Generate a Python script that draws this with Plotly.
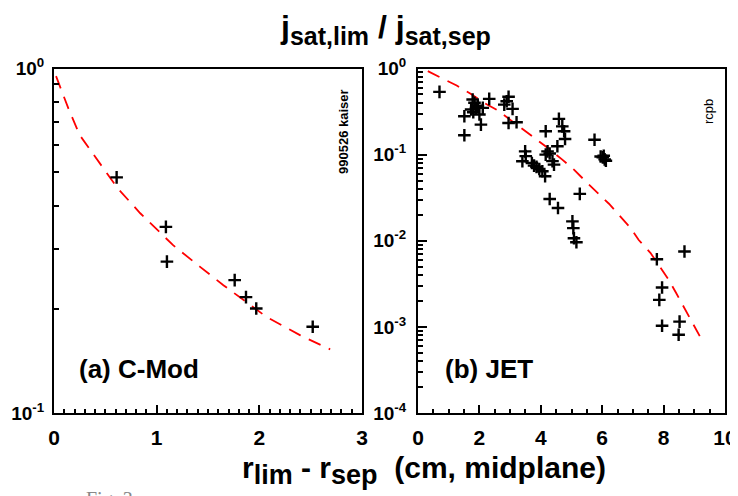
import plotly.graph_objects as go

# ---------------- data ----------------
cmod_x = [0.61, 1.09, 1.10, 1.76, 1.87, 1.97, 2.52]
cmod_y = [0.483, 0.347, 0.275, 0.243, 0.217, 0.201, 0.178]

cmod_fit_x = [0.02, 0.14, 0.25, 0.45, 0.62, 0.84, 1.16, 1.42, 1.65, 2.07, 2.40, 2.69]
cmod_fit_y = [0.95, 0.766, 0.641, 0.530, 0.449, 0.380, 0.307, 0.266, 0.235, 0.190, 0.168, 0.153]

jet_x = [0.70, 1.51, 1.51, 1.73, 1.78, 1.84, 1.89, 2.00, 2.05, 2.11, 1.95, 1.80,
         2.32, 2.81, 2.89, 2.95, 3.08, 2.95, 3.21,
         3.49, 3.51, 3.40, 3.71, 3.78, 3.86, 3.95, 4.05, 4.14,
         4.16, 4.16, 4.22, 4.29, 4.38, 4.43, 4.54, 4.59, 4.70, 4.76, 4.79,
         4.29, 4.56, 5.27, 5.03, 5.06, 5.08, 5.16,
         5.75, 5.95, 6.02, 6.08, 6.12, 6.05,
         7.78, 8.68, 7.95, 7.86, 7.95, 8.52, 8.49]
jet_y = [0.535, 0.168, 0.279, 0.334, 0.436, 0.40, 0.349, 0.292, 0.223, 0.349, 0.37, 0.31,
         0.444, 0.381, 0.417, 0.469, 0.340, 0.233, 0.238,
         0.109, 0.096, 0.0836, 0.080, 0.0745, 0.072, 0.068, 0.064, 0.056,
         0.187, 0.100, 0.109, 0.103, 0.084, 0.0765, 0.125, 0.26, 0.213, 0.187, 0.152,
         0.0305, 0.024, 0.035, 0.0168, 0.014, 0.0107, 0.0096,
         0.149, 0.095, 0.093, 0.088, 0.085, 0.097,
         0.0061, 0.0075, 0.00286, 0.00206, 0.00103, 0.00115, 0.00081]

jet_fit_x = [0.32, 1.26, 1.70, 2.16, 2.59, 3.06, 3.46, 3.89, 4.22, 4.70, 5.08, 5.46,
             5.84, 6.22, 6.54, 6.92, 7.19, 7.57, 7.84, 8.16, 8.40, 8.68, 8.92, 9.24]
jet_fit_y = [0.931, 0.634, 0.512, 0.398, 0.327, 0.244, 0.195, 0.149, 0.120, 0.0875, 0.067, 0.049,
             0.0363, 0.0269, 0.020, 0.0141, 0.0102, 0.00724, 0.00525, 0.00355, 0.00251, 0.00166,
             0.00117, 0.00071]

cmod_xticks = [0, 1, 2, 3]
jet_xticks = [0, 2, 4, 6, 8, 10]
cmod_yticks = [0.1, 1]
cmod_ytext = ["10<sup>-1</sup>", "10<sup>0</sup>"]
jet_yticks = [1e-4, 1e-3, 1e-2, 1e-1, 1]
jet_ytext = ["10<sup>-4</sup>", "10<sup>-3</sup>", "10<sup>-2</sup>", "10<sup>-1</sup>", "10<sup>0</sup>"]

# ---------------- figure ----------------
# the page body has an 8px margin, so the figure is offset by 8px in the window
OFF = 8
W, H = 738 - OFF, 496 - OFF
FONT = "Liberation Sans, Arial, Helvetica, sans-serif"

def px(x):
    return (x - OFF) / W

def py(y):
    return 1 - (y - OFF) / H

dom_a = [px(54), px(362)]
dom_b = [px(418), px(725)]
dom_y = [py(413), py(68.5)]

fig = go.Figure()

marker = dict(symbol="cross-thin", size=9, line=dict(color="black", width=2.4), color="black")
dash_line = dict(color="#ff0000", width=1.8, dash="13px,9px")

fig.add_trace(go.Scatter(x=cmod_fit_x, y=cmod_fit_y, mode="lines", line=dash_line,
                         xaxis="x", yaxis="y", showlegend=False, hoverinfo="skip"))
fig.add_trace(go.Scatter(x=cmod_x, y=cmod_y, mode="markers", marker=marker,
                         xaxis="x", yaxis="y", showlegend=False))
fig.add_trace(go.Scatter(x=jet_fit_x, y=jet_fit_y, mode="lines", line=dash_line,
                         xaxis="x2", yaxis="y2", showlegend=False, hoverinfo="skip"))
fig.add_trace(go.Scatter(x=jet_x, y=jet_y, mode="markers", marker=marker,
                         xaxis="x2", yaxis="y2", showlegend=False))

xtickfont = dict(family=FONT, size=21, color="black", weight="bold")
ytickfont = dict(family=FONT, size=19, color="black", weight="bold")

def minor_log(decades):
    vals = []
    for d in decades:
        for m in range(2, 10):
            vals.append(m * 10 ** d)
    return vals

common = dict(showline=True, linewidth=2, linecolor="black", ticks="inside",
              tickwidth=2, tickcolor="black", showgrid=False, zeroline=False,
              automargin=False, ticklabeloverflow="allow")

xa = dict(common, domain=dom_a, range=[0, 3], tickmode="array", tickvals=cmod_xticks,
          ticklen=8, tickfont=xtickfont,
          minor=dict(ticks="inside", dtick=0.1, tick0=0, ticklen=4,
                     tickwidth=1.5, tickcolor="black", showgrid=False),
          ticklabelstandoff=5)
xb = dict(common, domain=dom_b, range=[0, 10], tickmode="array", tickvals=jet_xticks,
          ticklen=8, tickfont=xtickfont,
          minor=dict(ticks="inside", dtick=0.5, tick0=0, ticklen=4,
                     tickwidth=1.5, tickcolor="black", showgrid=False),
          ticklabelstandoff=5)
ya = dict(common, domain=dom_y, type="log", range=[-1, 0], tickmode="array",
          tickvals=cmod_yticks, ticktext=cmod_ytext, ticklen=9, tickfont=ytickfont,
          minor=dict(ticks="inside", tickvals=minor_log([-1]), ticklen=5,
                     tickwidth=1.5, tickcolor="black", showgrid=False),
          ticklabelstandoff=4)
yb = dict(common, domain=dom_y, type="log", range=[-4, 0], tickmode="array",
          tickvals=jet_yticks, ticktext=jet_ytext, ticklen=9, tickfont=ytickfont,
          minor=dict(ticks="inside", tickvals=minor_log([-4, -3, -2, -1]), ticklen=5,
                     tickwidth=1.5, tickcolor="black", showgrid=False),
          ticklabelstandoff=6)

fig.update_layout(
    xaxis=dict(xa, anchor="y", mirror=True),
    yaxis=dict(ya, anchor="x", mirror=True),
    xaxis2=dict(xb, anchor="y2", mirror=True),
    yaxis2=dict(yb, anchor="x2", mirror=True),
    # mirrored tick sets (top / right)
    xaxis3=dict(xa, overlaying="x", side="top", anchor="y", showticklabels=False),
    yaxis3=dict(ya, overlaying="y", side="right", anchor="x", showticklabels=False),
    xaxis4=dict(xb, overlaying="x2", side="top", anchor="y2", showticklabels=False),
    yaxis4=dict(yb, overlaying="y2", side="right", anchor="x2", showticklabels=False),
)

def sub(t, size):
    return f"<sub><span style='font-size:{size}px'>{t}</span></sub>"

annos = [
    dict(text="j" + sub("sat,lim", 25) + " / j" + sub("sat,sep", 25), x=px(385), y=py(29),
         font=dict(family=FONT, size=32, color="black", weight="bold")),
    dict(text="r" + sub("lim", 27) + " - r" + sub("sep", 27) + "  (cm, midplane)",
         x=px(424), y=py(470),
         font=dict(family=FONT, size=30, color="black", weight="bold")),
    dict(text="(a) C-Mod", x=px(77), y=py(369), xanchor="left",
         font=dict(family=FONT, size=26, color="black", weight="bold")),
    dict(text="(b) JET", x=px(443), y=py(369), xanchor="left",
         font=dict(family=FONT, size=26, color="black", weight="bold")),
    dict(text="990526 kaiser", x=px(344), y=py(132), textangle=-90,
         font=dict(family=FONT, size=13, color="black", weight="bold")),
    dict(text="rcpb", x=px(708), y=py(112), textangle=-90,
         font=dict(family=FONT, size=13, color="black")),
    dict(text="Fig. 3", x=px(84), y=py(486), xanchor="left", yanchor="top",
         font=dict(family="Liberation Serif, serif", size=20, color="#888888")),
]
for a in annos:
    a.setdefault("xanchor", "center")
    a.setdefault("yanchor", "middle")
    fig.add_annotation(dict(a, xref="paper", yref="paper", showarrow=False))

fig.update_layout(width=W, height=H, margin=dict(l=0, r=0, t=0, b=0, autoexpand=False),
                  paper_bgcolor="white", plot_bgcolor="white",
                  font=dict(family=FONT, color="black"))

fig.write_html("out.html")
